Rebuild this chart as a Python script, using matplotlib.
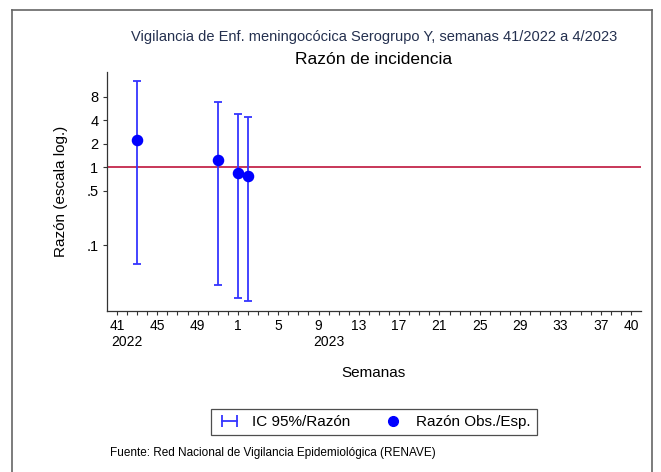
import matplotlib
matplotlib.use("Agg")
import matplotlib.pyplot as plt
from matplotlib.lines import Line2D
from matplotlib.legend_handler import HandlerLine2D
import numpy as np

plt.rcParams['font.family'] = ['Liberation Sans', 'DejaVu Sans']

# semanas epidemiologicas con dato
semanas = [43, 51, 1, 2]
anios = [2022, 2022, 2023, 2023]
razon = [2.22, 1.23, 0.845, 0.774]
ic_inf = [0.0566, 0.0307, 0.0211, 0.0193]
ic_sup = [12.8, 6.87, 4.82, 4.34]

# eje x: semanas 41/2022 a 40/2023
eje_semanas = list(range(41, 53)) + list(range(1, 41))
etiquetas_x = ['41', '45', '49', '1', '5', '9', '13', '17', '21', '25', '29', '33', '37', '40']
etiquetas_y = ['8', '4', '2', '1', '.5', '.1']
valores_y = [8, 4, 2, 1, 0.5, 0.1]


def posicion(semana, anio):
    if anio == 2022:
        return semana - 41
    return semana + 11


x = np.array([posicion(s, a) for s, a in zip(semanas, anios)])
razon = np.array(razon)
err = [razon - np.array(ic_inf), np.array(ic_sup) - razon]

fig = plt.figure(figsize=(6.61, 4.72), dpi=100)
ax = fig.add_axes([0.1614, 0.3411, 0.8083, 0.5064])

ax.axhline(1, color='#c4264b', lw=1.3, zorder=1)
ax.errorbar(x, razon, yerr=err, fmt='none', ecolor='#3535ff', elinewidth=1.3,
            capsize=3.2, capthick=1.3, zorder=2)
ax.plot(x, razon, 'o', color='#0000ff', markersize=7.3, zorder=3)

ax.set_yscale('log')
ax.set_ylim(0.0143, 16.5)
ax.set_xlim(-1.02, 52.0)
ax.set_yticks(valores_y)
ax.set_yticklabels(etiquetas_y, fontsize=10.5)
ax.yaxis.set_minor_locator(matplotlib.ticker.NullLocator())

pos_x = np.arange(len(eje_semanas))
ax.set_xticks(pos_x)
labels = [str(s) if str(s) in etiquetas_x and (i % 4 == 0 or i == len(eje_semanas) - 1) else ''
          for i, s in enumerate(eje_semanas)]
ax.set_xticklabels(labels, fontsize=10)
ax.tick_params(axis='x', length=3, width=0.8, pad=3, color='#333333')
ax.tick_params(axis='y', length=3, width=0.8, pad=3, color='#333333')

for a, p in [('2022', 0), ('2023', 20)]:
    ax.text(p - 0.55, -0.10, a, transform=ax.get_xaxis_transform(), ha='left', va='top', fontsize=10)

ax.spines['top'].set_visible(False)
ax.spines['right'].set_visible(False)
for s in ['left', 'bottom']:
    ax.spines[s].set_color('#333333')
    ax.spines[s].set_linewidth(0.9)

ax.set_ylabel('Razón (escala log.)', fontsize=11, labelpad=13)
fig.text(0.5654, 1 - 373 / 472, 'Semanas', ha='center', va='center', fontsize=11)

fig.text(0.5654, 1 - 37 / 472, 'Vigilancia de Enf. meningocócica Serogrupo Y, semanas 41/2022 a 4/2023',
         ha='center', va='center', fontsize=10.5, color='#24304f')
fig.text(0.5654, 1 - 60 / 472, 'Razón de incidencia', ha='center', va='center', fontsize=12.5)

h_ic = Line2D([], [], color='#3535ff', lw=1.3, marker='|', markersize=8, markeredgewidth=1.3)
h_pt = Line2D([], [], color='#0000ff', lw=0, marker='o', markersize=7)
leg = fig.legend([h_ic, h_pt], ['IC 95%/Razón', 'Razón Obs./Esp.'],
                 handler_map={h_ic: HandlerLine2D(numpoints=2), h_pt: HandlerLine2D(numpoints=1)},
                 loc='center', bbox_to_anchor=(0.5654, 1 - 422 / 472), ncol=2, fontsize=11,
                 frameon=True, fancybox=False, edgecolor='#222222', handlelength=1.6,
                 handletextpad=0.7, columnspacing=2.0, borderpad=0.4)
leg.get_frame().set_linewidth(0.9)

fig.text(110 / 661, 1 - 453 / 472, 'Fuente: Red Nacional de Vigilancia Epidemiológica (RENAVE)',
         ha='left', va='center', fontsize=8.5)

# marco exterior
x0, x1, y0 = 12 / 661, 652 / 661, 1 - 10 / 472
for xs, ys in [([x0, x0], [0, y0]), ([x0, x1], [y0, y0]), ([x1, x1], [y0, 0])]:
    fig.add_artist(Line2D(xs, ys, transform=fig.transFigure, color='#666666', lw=1.2))

fig.savefig('out.png', dpi=100)
